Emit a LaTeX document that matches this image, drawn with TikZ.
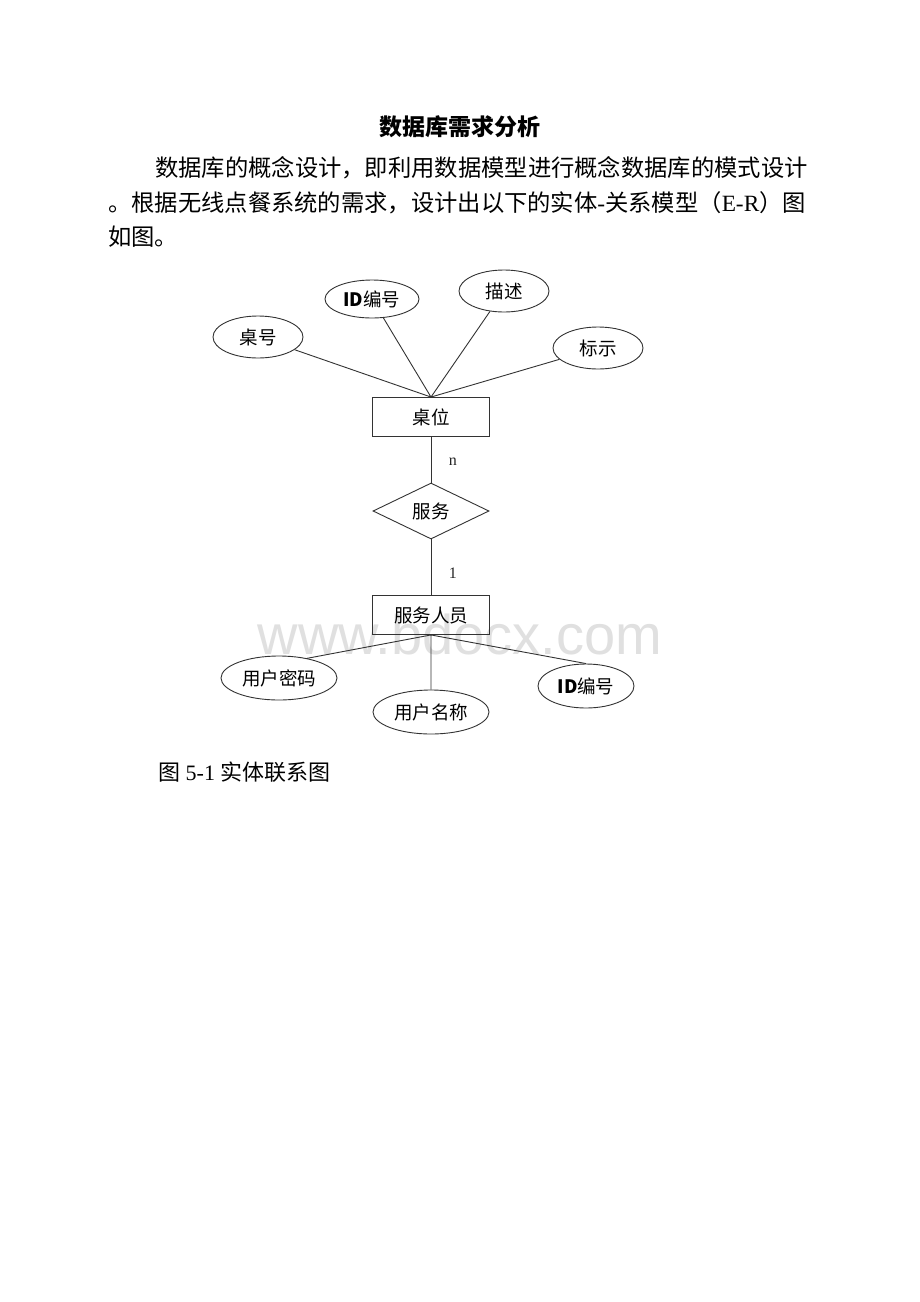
\documentclass[tikz,border=0pt]{standalone}
\usepackage{fontspec}
\setmainfont{Liberation Serif}
\newfontfamily\cjk{Noto Sans CJK SC}
\newfontfamily\wmfont{Liberation Sans}
\usetikzlibrary{shapes.geometric,positioning}
\tikzset{x=1pt, y=-1pt, % one unit is one pixel of the page
line/.style={draw=black!80, line width=0.9pt}, % the connectors of the diagram
entity/.style={line, rectangle, minimum width=117, minimum height=39, inner sep=0pt, font=\cjk\fontsize{18.5}{18.5}\selectfont},
relation/.style={line, diamond, aspect=2.1, minimum width=116, minimum height=56, inner sep=0pt, font=\cjk\fontsize{18.5}{18.5}\selectfont},
attr/.style={line, ellipse, minimum width=90, minimum height=42, inner sep=0pt, font=\cjk\fontsize{18.5}{18.5}\selectfont},
card/.style={font=\fontsize{16}{16}\selectfont, text=black!85}, % n and 1
body/.style={anchor=west, inner sep=0pt, font=\cjk\fontsize{23.3}{23.3}\selectfont},
}

\begin{document}
\begin{tikzpicture}
\useasboundingbox (0,0) rectangle (920,1302);
\fill[white] (0,0) rectangle (920,1302);

% watermark
\node[text=black!12, font=\wmfont\fontsize{56}{56}\selectfont] (wm) at (460,634) {www.bdocx.com};

% heading and text
\node[font=\cjk\bfseries\fontsize{23}{23}\selectfont] (title) at (460,127) {数据库需求分析};
\node[body] (l1) at (155,168) {数据库的概念设计，即利用数据模型进行概念数据库的模式设计};
\node[body] (l2) at (108,203) {。根据无线点餐系统的需求，设计出以下的实体{\rmfamily -}关系模型（{\rmfamily E-R}）图};
\node[body] (l3) at (108,237) {如图。};

% entities and relation
\node[entity] (zw) at (431,417) {桌位};
\node[relation] (fw) at (431,511) {服务};
\node[entity] (ry) at (431,615) {服务人员};

% attributes of the table
\node[attr] (zh) at (258,337) {桌号};
\node[attr, minimum width=94, minimum height=38] (id1) at (372,299) {{\bfseries ID}编号};
\node[attr] (ms) at (504,291) {描述};
\node[attr] (bs) at (598,348) {标示};

% attributes of the waiter
\node[attr, minimum width=116, minimum height=44] (mm) at (279,678) {用户密码};
\node[attr, minimum width=116, minimum height=44] (mc) at (431,712) {用户名称};
\node[attr, minimum width=96, minimum height=44] (id2) at (586,686) {{\bfseries ID}编号};

% connectors
\draw[line] (zw.north) -- (zh)
(zw.north) -- (id1)
(zw.north) -- (ms)
(zw.north) -- (bs);
\draw[line] (zw) -- node[card, right=14pt, pos=0.55]{n} (fw);
\draw[line] (fw) -- node[card, right=14pt, pos=0.6]{1} (ry);
\draw[line] (ry.south) -- (mm.35)
(ry.south) -- (mc.north)
(ry.south) -- (id2.north);

% caption
\node[anchor=west, inner sep=0pt, font=\fontsize{22}{22}\selectfont] (cap) at (158,772) {{\cjk 图} 5-1 {\cjk 实体联系图}};
\end{tikzpicture}
\end{document}
